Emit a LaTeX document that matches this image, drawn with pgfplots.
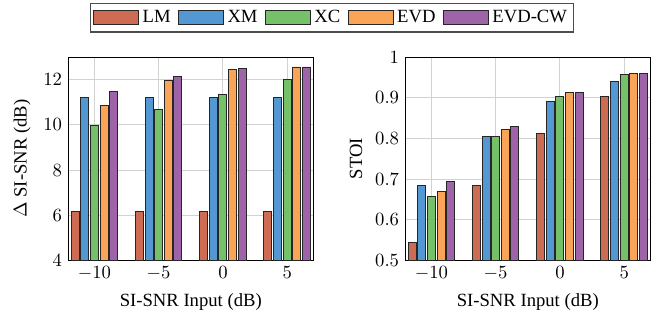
\documentclass[border=0pt]{standalone}
\usepackage{pgfplots}
\pgfplotsset{compat=1.18}
\usepackage{fontspec}
\setmainfont{Liberation Serif}
\definecolor{cLM}{RGB}{205,107,83}
\definecolor{cXM}{RGB}{84,152,211}
\definecolor{cXC}{RGB}{117,192,104}
\definecolor{cEVD}{RGB}{250,164,87}
\definecolor{cCW}{RGB}{157,100,168}
\pgfplotsset{
  mybars/.style={
    scale only axis, width=131pt, height=109pt,
    ybar, bar width=0.62,
    xmin=-12, xmax=7,
    xtick={-10,-5,0,5},
    grid=major, major grid style={gray!35, line width=0.5pt},
    xlabel={SI-SNR Input (dB)},
    tick align=inside, tick style={draw=none},
    axis line style={black},
    every axis plot/.append style={draw=black!85, line width=0.5pt},
  },
}
\begin{document}
\begin{tikzpicture}
\begin{axis}[mybars, name=left,
  ymin=4, ymax=13, ytick={4,6,8,10,12},
  ylabel={$\Delta$ SI-SNR (dB)},
  legend columns=5,
  legend style={at={(1.078,1.12)}, anchor=south, draw=black!70, line width=0.8pt,
    /tikz/every even column/.append style={column sep=2pt},
    font=\normalsize, inner sep=1.5pt},
  legend image code/.code={\draw[#1, line width=0.5pt] (0pt,-3.8pt) rectangle (24pt,3.8pt);},
]
\addplot[fill=cLM, bar shift=-1.5] coordinates {(-10,6.17) (-5,6.17) (0,6.17) (5,6.17)};
\addplot[fill=cXM, bar shift=-0.75] coordinates {(-10,11.22) (-5,11.22) (0,11.22) (5,11.22)};
\addplot[fill=cXC, bar shift=0] coordinates {(-10,9.98) (-5,10.67) (0,11.35) (5,12.0)};
\addplot[fill=cEVD, bar shift=0.75] coordinates {(-10,10.87) (-5,11.98) (0,12.45) (5,12.56)};
\addplot[fill=cCW, bar shift=1.5] coordinates {(-10,11.47) (-5,12.16) (0,12.48) (5,12.56)};
\legend{LM,XM,XC,EVD,EVD-CW}
\end{axis}
\begin{axis}[mybars, at={(left.south east)}, xshift=49.7pt,
  ymin=0.5, ymax=1, ytick={0.5,0.6,0.7,0.8,0.9,1},
  ylabel={STOI},
]
\addplot[fill=cLM, bar shift=-1.5] coordinates {(-10,0.544) (-5,0.684) (0,0.811) (5,0.903)};
\addplot[fill=cXM, bar shift=-0.75] coordinates {(-10,0.684) (-5,0.805) (0,0.890) (5,0.940)};
\addplot[fill=cXC, bar shift=0] coordinates {(-10,0.657) (-5,0.804) (0,0.904) (5,0.957)};
\addplot[fill=cEVD, bar shift=0.75] coordinates {(-10,0.670) (-5,0.821) (0,0.914) (5,0.960)};
\addplot[fill=cCW, bar shift=1.5] coordinates {(-10,0.693) (-5,0.829) (0,0.914) (5,0.960)};
\end{axis}
\path ([shift={(-4pt,-2pt)}]current bounding box.south west) rectangle ([shift={(3pt,1.6pt)}]current bounding box.north east);
\end{tikzpicture}
\end{document}
